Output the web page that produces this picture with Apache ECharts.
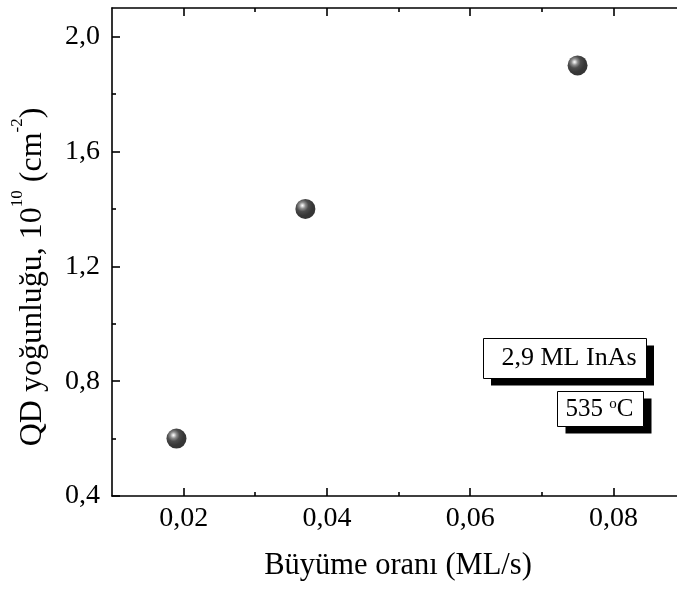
<!DOCTYPE html>
<html><head><meta charset="utf-8">
<script src="https://cdn.jsdelivr.net/npm/echarts@6/dist/echarts.min.js"></script>
<style>html,body{margin:0;padding:0;background:#fff;overflow:hidden}#c{width:677px;height:590px}</style>
</head><body><div id="c"></div>
<script>
// ---- data ----
const growthRate = [0.019, 0.037, 0.075];      // ML/s
const qdDensity  = [0.6, 1.4, 1.9];            // 10^10 cm^-2
const xMajorTicks = [0.02, 0.04, 0.06, 0.08];
const xMinorTicks = [0.03, 0.05, 0.07];
const yMajorTicks = [0.4, 0.8, 1.2, 1.6, 2.0];
const yMinorTicks = [0.6, 1.0, 1.4, 1.8];
const xRange = [0.01, 0.09];
const yRange = [0.4, 2.1];
const xTitle = 'Büyüme oranı (ML/s)';
const yTitleParts = ['QD yoğunluğu, 10', '10', ' (cm', '-2', ')'];
const boxLabel1 = '2,9 ML InAs';
const boxLabel2 = ['535 ', 'o', 'C'];

// ---- chart ----
const FONT = '"Liberation Serif","Times New Roman",serif';
const chart = echarts.init(document.getElementById('c'), null, {renderer: 'canvas'});

function mkAxis(isX, pos, ticks, len, labels, showLine) {
  const r = isX ? xRange : yRange;
  return {
    type: 'value', gridIndex: 0, position: pos, min: r[0], max: r[1],
    axisLine: {show: showLine, onZero: false, lineStyle: {color: '#000', width: 1.6}},
    axisTick: {show: true, inside: true, length: len, customValues: ticks,
               lineStyle: {color: '#000', width: 1.6}},
    minorTick: {show: false},
    splitLine: {show: false},
    splitArea: {show: false},
    axisLabel: labels ? {
      show: true, customValues: ticks, margin: isX ? 9 : 12,
      color: '#000', fontFamily: FONT, fontSize: 28,
      formatter: v => (isX ? v.toFixed(2) : v.toFixed(1)).replace('.', ',')
    } : {show: false}
  };
}

const option = {
  animation: false,
  backgroundColor: '#fff',
  grid: {show: false, borderWidth: 0, left: 112, top: 8, width: 573, height: 488,
         containLabel: false, outerBoundsMode: 'none'},
  xAxis: [
    mkAxis(true, 'bottom', xMajorTicks, 8, true, true),
    mkAxis(true, 'bottom', xMinorTicks, 4, false, false),
    mkAxis(true, 'top', xMajorTicks, 8, false, true),
    mkAxis(true, 'top', xMinorTicks, 4, false, false)
  ],
  yAxis: [
    mkAxis(false, 'left', yMajorTicks, 8, true, true),
    mkAxis(false, 'left', yMinorTicks, 4, false, false)
  ],
  series: [{
    type: 'scatter', xAxisIndex: 0, yAxisIndex: 0,
    symbol: 'circle', symbolSize: 20,
    itemStyle: {
      color: {type: 'radial', x: 0.35, y: 0.33, r: 0.72, colorStops: [
        {offset: 0, color: '#ffffff'},
        {offset: 0.08, color: '#d0d0d0'},
        {offset: 0.22, color: '#707070'},
        {offset: 0.42, color: '#202020'},
        {offset: 0.7, color: '#050505'},
        {offset: 1, color: '#000'}
      ]}
    },
    data: growthRate.map((x, i) => [x, qdDensity[i]])
  }],
  graphic: [
    // y-axis title (rotated)
    {type: 'text', x: 33, y: 277, rotation: Math.PI / 2, silent: true,
     style: {
       text: '{m|' + yTitleParts[0] + '}{s|' + yTitleParts[1] + '}{m|' + yTitleParts[2] + '}{s|' + yTitleParts[3] + '}{m|' + yTitleParts[4] + '}',
       textAlign: 'center', align: 'center', textVerticalAlign: 'middle', verticalAlign: 'middle',
       fill: '#000', font: '32px ' + FONT,
       rich: {
         m: {fontSize: 32, fontFamily: FONT, lineHeight: 48, color: '#000', fill: '#000'},
         s: {fontSize: 17, fontFamily: FONT, lineHeight: 17, verticalAlign: 'top', color: '#000', fill: '#000'}
       }
     }},
    // x-axis title
    {type: 'text', x: 398, y: 565.5, silent: true,
     style: {text: xTitle, textAlign: 'center', align: 'center', textVerticalAlign: 'middle', verticalAlign: 'middle',
             fill: '#000', font: '30.5px ' + FONT}},
    // annotation box 1
    {type: 'rect', silent: true, shape: {x: 491, y: 345.5, width: 163, height: 40}, style: {fill: '#000'}},
    {type: 'rect', silent: true, shape: {x: 483.5, y: 338.5, width: 163, height: 40},
     style: {fill: '#fff', stroke: '#000', lineWidth: 1}},
    {type: 'text', x: 569, y: 358.5, silent: true,
     style: {text: boxLabel1, textAlign: 'center', align: 'center', textVerticalAlign: 'middle', verticalAlign: 'middle',
             fill: '#000', font: '26px ' + FONT}},
    // annotation box 2
    {type: 'rect', silent: true, shape: {x: 565.5, y: 398.5, width: 86, height: 35}, style: {fill: '#000'}},
    {type: 'rect', silent: true, shape: {x: 557.5, y: 391.5, width: 86, height: 35},
     style: {fill: '#fff', stroke: '#000', lineWidth: 1}},
    {type: 'text', x: 599.5, y: 409, silent: true,
     style: {
       text: '{m|' + boxLabel2[0] + '}{s|' + boxLabel2[1] + '}{m|' + boxLabel2[2] + '}',
       textAlign: 'center', align: 'center', textVerticalAlign: 'middle', verticalAlign: 'middle',
       fill: '#000', font: '25px ' + FONT,
       rich: {
         m: {fontSize: 25, fontFamily: FONT, lineHeight: 24, color: '#000', fill: '#000'},
         s: {fontSize: 15, fontFamily: FONT, lineHeight: 15, verticalAlign: 'top', color: '#000', fill: '#000'}
       }
     }}
  ]
};
chart.setOption(option);
</script>
</body></html>
